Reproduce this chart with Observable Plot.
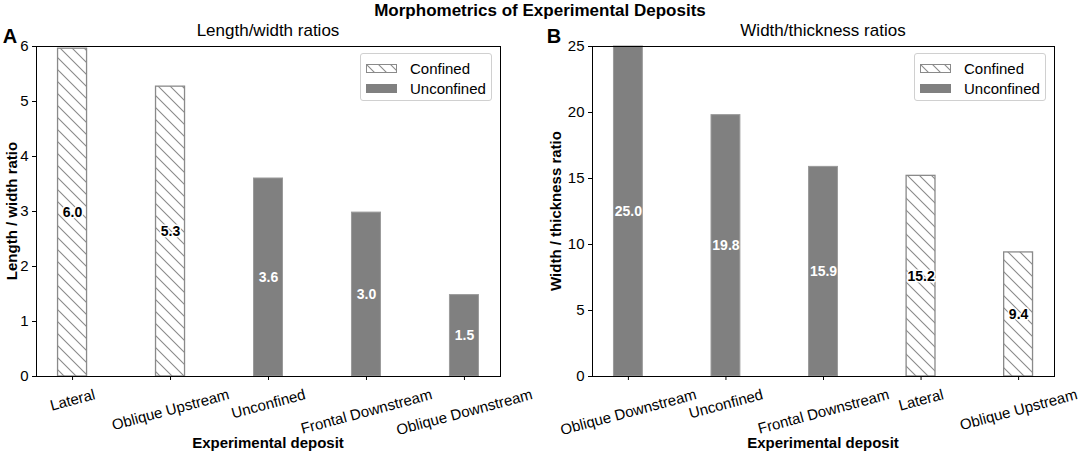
<!DOCTYPE html>
<html><head><meta charset="utf-8">
<script src="https://cdn.jsdelivr.net/npm/d3@7"></script>
<script src="https://cdn.jsdelivr.net/npm/@observablehq/plot@0.6"></script>
<style>
body{margin:0;background:#fff;font-family:"Liberation Sans",Arial,sans-serif;}
#root{position:relative;width:1079px;height:454px;overflow:hidden;}
.ov{position:absolute;white-space:nowrap;transform:translate(-50%,-50%);color:#000;}
.plot{position:absolute;top:0;}
.legend{position:absolute;border:1px solid #d0d0d0;border-radius:3px;background:#fff;box-sizing:border-box;}
.lrow{position:absolute;left:0;height:18px;display:flex;align-items:center;font-size:15px;}
.sw{width:31px;height:9px;margin-left:5px;margin-right:13px;box-sizing:border-box;}
</style></head>
<body>
<svg width="0" height="0" style="position:absolute">
<defs>
<pattern id="hatch" patternUnits="userSpaceOnUse" width="12" height="12">
<rect width="12" height="12" fill="#fff"/>
<path d="M-1,-1L13,13M-1,11L1,13M11,-1L13,1" stroke="#8a8a8a" stroke-width="1.1"/>
</pattern>
</defs>
</svg>
<div id="root"></div>
<script>
// ---- data ----
const catsA = ["Lateral", "Oblique Upstream", "Unconfined", "Frontal Downstream", "Oblique Downstream"];
const valsA = [5.96, 5.27, 3.6, 2.98, 1.48];
const confA = [true, true, false, false, false];
const catsB = ["Oblique Downstream", "Unconfined", "Frontal Downstream", "Lateral", "Oblique Upstream"];
const valsB = [25.0, 19.8, 15.88, 15.2, 9.4];
const confB = [false, false, false, true, true];
const ticksA = [0, 1, 2, 3, 4, 5, 6];
const ticksB = [0, 5, 10, 15, 20, 25];
const legendLabels = ["Confined", "Unconfined"];

const root = document.getElementById("root");
const ctx = document.createElement("canvas").getContext("2d");
ctx.font = "15px 'Liberation Sans', Arial";
function halfExtent(s){
  const w = ctx.measureText(s).width, h = 16, a = 15*Math.PI/180;
  return (w*Math.sin(a) + h*Math.cos(a))/2;
}

function panel(cats, vals, conf, ticks, ymax, opts){
  const data = cats.map((c,i)=>({cat:c, value:vals[i], confined:conf[i]}));
  const marks = [
    Plot.barY(data.filter(d=>d.confined), {x:"cat", y:"value", fill:"url(#hatch)", stroke:"#8a8a8a", strokeWidth:1.3}),
    Plot.barY(data.filter(d=>!d.confined), {x:"cat", y:"value", fill:"#808080", stroke:"#9a9a9a", strokeWidth:1}),
    Plot.text(data.filter(d=>d.confined), {x:"cat", y:d=>d.value/2, text:d=>d.value.toFixed(1), fill:"#000", stroke:"#fff", strokeWidth:3, fontWeight:"bold", fontSize:14}),
    Plot.text(data.filter(d=>!d.confined), {x:"cat", y:d=>d.value/2, text:d=>d.value.toFixed(1), fill:"#fff", fontWeight:"bold", fontSize:14}),
    Plot.frame({stroke:"#000", strokeWidth:1}),
    Plot.axisY({ticks:ticks, tickSize:4, tickPadding:4, fontSize:15, tickFormat:d3.format("d"), label:null}),
    Plot.axisX({tickSize:4, tickFormat:()=>"", label:null}),
    ...cats.map(c => Plot.text([c], {x:d=>d, frameAnchor:"bottom", dy:10+halfExtent(c), rotate:-15, fontSize:15, textAnchor:"middle", lineAnchor:"middle"}))
  ];
  const p = Plot.plot({
    width: opts.width, height: 454,
    marginLeft: opts.ml, marginRight: opts.mr, marginTop: 46, marginBottom: 78,
    style:{fontFamily:"'Liberation Sans', Arial, sans-serif", fontSize:"15px", color:"#000", background:"transparent"},
    x:{type:"band", domain:cats, paddingInner:0.704, paddingOuter:0.22, round:false},
    y:{domain:[0, ymax], round:false},
    marks
  });
  p.classList.add("plot");
  p.style.left = opts.left + "px";
  root.appendChild(p);
}

panel(catsA, valsA, confA, ticksA, 6, {left:0, width:540, ml:36, mr:40});
panel(catsB, valsB, confB, ticksB, 25, {left:540, width:539, ml:52, mr:25});

function ov(text, x, y, style){
  const d = document.createElement("div");
  d.className = "ov"; d.textContent = text;
  d.style.left = x+"px"; d.style.top = y+"px";
  Object.assign(d.style, style||{});
  root.appendChild(d);
}
ov("Morphometrics of Experimental Deposits", 540, 11, {fontWeight:"bold", fontSize:"17px"});
ov("Length/width ratios", 268, 31, {fontSize:"17px"});
ov("Width/thickness ratios", 823, 31, {fontSize:"17px"});
ov("A", 10, 36, {fontWeight:"bold", fontSize:"20px"});
ov("B", 554, 36, {fontWeight:"bold", fontSize:"20px"});
ov("Length / width ratio", 11, 211, {fontWeight:"bold", fontSize:"15px", transform:"translate(-50%,-50%) rotate(-90deg)"});
ov("Width / thickness ratio", 555, 211, {fontWeight:"bold", fontSize:"15px", transform:"translate(-50%,-50%) rotate(-90deg)"});
ov("Experimental deposit", 268, 442, {fontWeight:"bold", fontSize:"15px"});
ov("Experimental deposit", 823, 442, {fontWeight:"bold", fontSize:"15px"});

function legend(left){
  const box = document.createElement("div");
  box.className = "legend";
  box.style.left = left+"px"; box.style.top = "53px";
  box.style.width = "132px"; box.style.height = "48px";
  legendLabels.forEach((lab,i)=>{
    const r = document.createElement("div");
    r.className = "lrow"; r.style.top = (5 + i*20) + "px";
    const sw = document.createElement("div");
    sw.className = "sw";
    if (i===0){
      sw.innerHTML = '<svg width="31" height="9" style="display:block"><rect x="0.5" y="0.5" width="30" height="8" fill="url(#hatch)" stroke="#8a8a8a"/></svg>';
    } else {
      sw.style.background = "#808080";
    }
    const t = document.createElement("span"); t.textContent = lab;
    r.appendChild(sw); r.appendChild(t);
    box.appendChild(r);
  });
  root.appendChild(box);
}
legend(360);
legend(914);
</script>
</body></html>
